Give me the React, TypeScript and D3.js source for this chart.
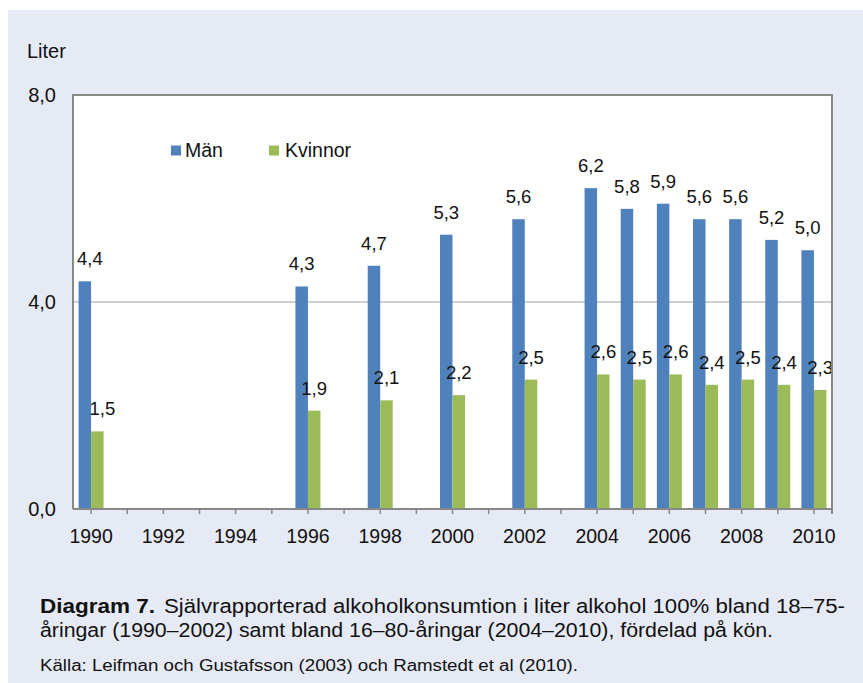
import React from "react";
import * as d3 from "d3";

const years = d3.range(1990, 2011);
const tickLabelYears = [1990, 1992, 1994, 1996, 1998, 2000, 2002, 2004, 2006, 2008, 2010];
const dataYears = [1990, 1996, 1998, 2000, 2002, 2004, 2005, 2006, 2007, 2008, 2009, 2010];
const men = [4.4, 4.3, 4.7, 5.3, 5.6, 6.2, 5.8, 5.9, 5.6, 5.6, 5.2, 5.0];
const women = [1.5, 1.9, 2.1, 2.2, 2.5, 2.6, 2.5, 2.6, 2.4, 2.5, 2.4, 2.3];
const yTicks = [0, 4, 8];
const seriesNames = ["Män", "Kvinnor"];
const colors = ["#4F81BD", "#9BBB59"];

const W = 863, H = 683;
const left = 73, right = 832, top = 95, bottom = 509;
const font = "'Liberation Sans', Arial, sans-serif";
const fmt = (v: number) => v.toFixed(1).replace(".", ",");

export default function App() {
  const x = d3.scaleLinear().domain([1989.5, 2010.5]).range([left, right]);
  const y = d3.scaleLinear().domain([0, 8]).range([bottom, top]);
  const bw = 12.5;
  const series = [men, women];

  return (
    <svg width={W} height={H} style={{ position: "absolute", left: 0, top: 0 }} fontFamily={font}>
      <rect x={0} y={0} width={W} height={H} fill="#ffffff" />
      <rect x={8} y={10} width={W - 8} height={H - 10} fill="#E6EAF5" />
      <rect x={left} y={top} width={right - left} height={bottom - top} fill="#ffffff" />
      {yTicks.filter(t => t > 0 && t < 8).map(t => (
        <line key={t} x1={left} x2={right} y1={y(t)} y2={y(t)} stroke="#BFBFBF" strokeWidth={1.5} />
      ))}
      {series.map((vals, si) =>
        vals.map((v, i) => {
          const cx = x(dataYears[i]) + (si === 0 ? -bw : 0);
          const shift = dataYears[i] === 1990 ? 5 : 0;
          return (
            <g key={`${si}-${i}`}>
              <rect x={cx} y={y(v)} width={bw} height={y(0) - y(v)} fill={colors[si]} />
              <text x={cx + bw / 2 + shift} y={y(v) - 16} textAnchor="middle" fontSize={18.5} fill="#111">
                {fmt(v)}
              </text>
            </g>
          );
        })
      )}
      <path d={`M${left},${bottom} V${top} H${right} V${bottom + 5}`} fill="none" stroke="#888" strokeWidth={2} />
      <line x1={left} x2={right} y1={bottom} y2={bottom} stroke="#888" strokeWidth={2} />
      {years.map(yr => (
        <line key={yr} x1={x(yr)} x2={x(yr)} y1={bottom} y2={bottom + 5} stroke="#888" strokeWidth={1.5} />
      ))}
      {tickLabelYears.map(yr => (
        <text key={yr} x={x(yr)} y={543} textAnchor="middle" fontSize={19.5} fill="#111">
          {yr}
        </text>
      ))}
      {yTicks.map(t => (
        <text key={t} x={56} y={y(t) + 7} textAnchor="end" fontSize={20} fill="#111">
          {fmt(t)}
        </text>
      ))}
      <text x={27} y={58} fontSize={20} fill="#111">Liter</text>
      {seriesNames.map((n, i) => (
        <g key={n}>
          <rect x={171 + i * 98} y={145.5} width={10} height={10} fill={colors[i]} />
          <text x={185 + i * 100} y={157} fontSize={19.5} fill="#111">{n}</text>
        </g>
      ))}
      <text x={40} y={613} fontSize={19.5} fontWeight="bold" fill="#111" textLength={115} lengthAdjust="spacingAndGlyphs">
        Diagram 7.
      </text>
      <text x={164} y={613} fontSize={19.5} fill="#111" textLength={681} lengthAdjust="spacingAndGlyphs">
        Självrapporterad alkoholkonsumtion i liter alkohol 100% bland 18–75-
      </text>
      <text x={40} y={637} fontSize={19.5} fill="#111" textLength={733} lengthAdjust="spacingAndGlyphs">
        åringar (1990–2002) samt bland 16–80-åringar (2004–2010), fördelad på kön.
      </text>
      <text x={40} y={671} fontSize={16} fill="#111" textLength={538} lengthAdjust="spacingAndGlyphs">
        Källa: Leifman och Gustafsson (2003) och Ramstedt et al (2010).
      </text>
    </svg>
  );
}
